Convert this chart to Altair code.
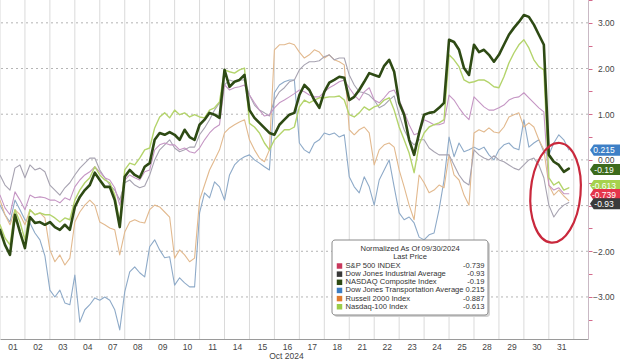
import json
import altair as alt
import pandas as pd

# ---------------- data ----------------
day_labels = ["01", "02", "03", "04", "07", "08", "09", "10", "11", "14", "15", "16",
              "17", "18", "21", "22", "23", "24", "25", "28", "29", "30", "31"]
slots_per_day = 5  # intraday samples per trading day

names = ["S&P 500 INDEX", "Dow Jones Industrial Average", "NASDAQ Composite Index",
         "Dow Jones Transportation Average", "Russell 2000 Index", "Nasdaq-100 Index"]
last_price_text = ["-0.739", "-0.93", "-0.19", "0.215", "-0.887", "-0.613"]
last_price = [-0.739, -0.93, -0.19, 0.215, -0.887, -0.613]

# % change vs 09/30/2024 close, 5 intraday samples per trading day
sp500 = [-0.77, -1.05, -1.20, -0.70, -0.88, -1.09, -0.77, -0.83, -0.81, -0.83,
         -0.88, -0.88, -0.94, -0.83, -0.88, -0.59, -0.44, -0.33, -0.26, -0.15,
         -0.26, -0.39, -0.44, -0.61, -0.99, -0.44, -0.33, -0.39, -0.44, -0.26,
         -0.22, 0.22, 0.33, 0.37, 0.33, 0.33, 0.22, 0.26, 0.18, 0.15,
         0.26, 0.44, 0.59, 0.70, 0.77, 1.64, 1.53, 1.58, 1.60, 1.64,
         1.42, 1.25, 1.09, 0.96, 0.99, 1.14, 1.25, 1.31, 1.38, 1.45,
         1.53, 1.49, 1.42, 1.38, 1.38, 1.49, 1.58, 1.64, 1.71, 1.75,
         1.58, 1.42, 1.31, 1.49, 1.58, 1.31, 1.25, 1.36, 1.49, 1.53,
         1.31, 1.05, 0.77, 0.55, 0.59, 0.88, 0.83, 0.77, 0.77, 0.81,
         1.42, 1.31, 1.14, 0.99, 0.88, 1.38, 1.27, 1.16, 1.09, 1.09,
         1.14, 1.20, 1.31, 1.36, 1.38, 1.47, 1.36, 1.25, 1.14, 1.05,
         -0.55, -0.66, -0.61, -0.74, -0.74]
dow = [-0.33, -0.55, -0.66, -0.18, -0.11, -0.39, -0.11, -0.22, -0.18, -0.26,
       -0.55, -0.66, -0.77, -0.61, -0.50, -0.33, -0.18, -0.07, 0.04, 0.04,
       -0.22, -0.39, -0.55, -0.66, -0.88, -0.50, -0.44, -0.55, -0.61, -0.57,
       -0.33, 0.00, 0.22, 0.33, 0.44, 0.26, 0.18, 0.22, 0.28, 0.28,
       0.55, 0.70, 0.88, 1.09, 1.25, 1.64, 1.75, 1.71, 1.75, 1.75,
       1.42, 1.20, 1.09, 1.03, 0.96, 1.31, 1.49, 1.58, 1.71, 1.75,
       1.97, 2.08, 2.15, 2.15, 2.17, 2.26, 2.30, 2.19, 2.23, 2.23,
       1.86, 1.64, 1.49, 1.47, 1.42, 1.31, 1.14, 1.20, 1.31, 1.40,
       0.99, 0.66, 0.44, 0.33, 0.44, 0.44, 0.26, 0.18, 0.11, 0.11,
       0.11, -0.11, -0.33, -0.48, -0.55, 0.22, 0.11, 0.04, 0.00, 0.09,
       0.00, -0.04, -0.11, -0.18, -0.22, -0.11, 0.00, 0.04, -0.11, -0.39,
       -0.99, -1.25, -1.09, -0.99, -0.93]
nasdaq_comp = [-1.53, -1.86, -2.08, -1.20, -1.58, -1.93, -1.25, -1.38, -1.36, -1.42,
               -1.36, -1.47, -1.53, -1.42, -1.53, -1.03, -0.81, -0.66, -0.55, -0.28,
               -0.44, -0.59, -0.59, -0.88, -1.47, -0.37, -0.22, -0.33, -0.39, -0.15,
               -0.07, 0.44, 0.59, 0.55, 0.61, 0.55, 0.44, 0.66, 0.50, 0.44,
               0.77, 0.88, 1.03, 0.99, 0.92, 1.97, 1.60, 1.71, 1.75, 1.86,
               1.09, 0.92, 0.81, 0.70, 0.59, 0.55, 0.77, 0.88, 0.99, 1.03,
               1.42, 1.64, 1.53, 1.31, 1.14, 1.49, 1.69, 1.75, 1.82, 1.80,
               1.31, 1.38, 1.53, 1.71, 1.90, 1.86, 1.82, 2.06, 2.19, 1.93,
               1.25, 0.99, 0.44, 0.11, 0.59, 0.99, 1.03, 1.05, 1.14, 1.25,
               2.63, 2.58, 2.41, 2.01, 1.86, 2.52, 2.36, 2.41, 2.30, 2.15,
               2.30, 2.52, 2.74, 2.89, 3.02, 3.17, 3.13, 2.96, 2.74, 2.52,
               0.11, -0.04, -0.11, -0.26, -0.19]
transports = [-0.99, -1.20, -1.36, -0.88, -1.09, -1.31, -1.38, -1.60, -1.75, -2.10,
              -2.85, -3.00, -2.85, -3.13, -3.17, -2.52, -3.55, -3.28, -3.17, -3.02,
              -3.07, -3.00, -3.07, -3.28, -3.72, -2.89, -2.45, -2.34, -2.47, -2.56,
              -1.90, -1.75, -1.97, -2.14, -2.12, -2.74, -2.58, -2.69, -2.78, -2.78,
              -1.16, -0.72, -0.83, -0.48, -0.59, -0.88, -0.33, -0.11, 0.00, 0.07,
              0.11, 0.00, -0.07, -0.15, -0.22, 1.47, 1.64, 1.71, 1.75, 1.75,
              0.37, 0.22, 0.15, 0.37, 0.44, 0.59, 0.55, 0.59, 0.50, 0.55,
              -0.37, -0.59, -0.72, -0.37, -0.59, -0.99, -0.44, -0.22, 0.00, -0.59,
              -1.16, -1.31, -1.25, -1.38, -1.69, -1.75, -1.64, -1.60, -1.09, -0.44,
              0.50, 0.07, 0.37, 0.18, 0.22, 0.28, 0.22, 0.28, 0.11, 0.00,
              0.22, 0.33, 0.37, 0.26, 0.22, 0.88, 0.28, 0.37, 0.44, 0.18,
              0.11, 0.37, 0.55, 0.44, 0.22]
russell = [-0.88, -1.20, -1.42, -1.09, -1.20, -1.42, -1.09, -1.20, -1.16, -1.27,
           -1.97, -2.23, -2.08, -2.30, -2.15, -1.36, -1.14, -0.99, -0.88, -0.99,
           -1.36, -1.42, -1.49, -1.53, -2.08, -1.58, -1.36, -1.31, -1.36, -1.38,
           -1.09, -0.99, -1.03, -1.14, -1.25, -2.15, -1.97, -2.08, -2.23, -2.15,
           -0.88, -0.55, -0.22, 0.00, 0.22, 0.59, 0.70, 0.77, 0.83, 0.88,
           0.44, 0.22, 0.04, -0.04, 0.22, 2.41, 2.52, 2.52, 2.56, 2.52,
           2.36, 2.23, 2.30, 2.41, 2.36, 2.23, 2.30, 2.19, 2.15, 2.08,
           0.66, 0.55, 0.66, 0.72, 0.59, -0.11, 0.22, 0.33, 0.37, 0.28,
           -0.22, -0.59, -0.99, -1.31, -0.33, -0.50, -0.72, -0.66, -0.55, -0.61,
           0.11, -0.33, -0.44, -0.77, -0.99, 0.59, 0.66, 0.61, 0.70, 0.61,
           0.59, 0.72, 0.94, 0.99, 1.03, 0.72, 0.81, 0.72, 0.44, 0.22,
           -0.55, -0.77, -0.66, -0.79, -0.89]
nasdaq100 = [-1.42, -1.71, -1.86, -1.09, -1.36, -1.75, -1.09, -1.20, -1.16, -1.20,
             -1.20, -1.27, -1.36, -1.27, -1.31, -0.88, -0.66, -0.50, -0.39, -0.15,
             -0.33, -0.44, -0.50, -0.77, -1.36, -0.22, -0.07, -0.11, 0.04, 0.22,
             0.26, 0.70, 0.94, 1.03, 0.92, 1.09, 0.99, 1.03, 0.94, 0.99,
             0.94, 0.92, 1.09, 1.14, 1.27, 1.97, 1.93, 1.90, 1.97, 2.01,
             0.80, 0.72, 0.59, 0.37, 0.22, 0.44, 0.55, 0.66, 0.66, 0.72,
             1.16, 1.31, 1.25, 1.31, 1.36, 1.36, 1.38, 1.38, 1.40, 1.31,
             0.99, 0.94, 1.03, 1.16, 1.09, 1.16, 1.20, 1.31, 1.36, 1.09,
             0.72, 0.44, 0.15, -0.28, 0.33, 0.59, 0.72, 0.77, 0.81, 0.88,
             2.30, 2.19, 2.04, 1.75, 1.69, 1.71, 1.75, 1.75, 1.69, 1.60,
             1.58, 1.82, 2.12, 2.34, 2.52, 2.63, 2.45, 2.19, 2.04, 1.97,
             -0.39, -0.55, -0.48, -0.66, -0.61]

series_values = [sp500, dow, nasdaq_comp, transports, russell, nasdaq100]
legend_colors = ["#c8385c", "#383838", "#2d4a12", "#3d7dc2", "#e07b2e", "#9ccc48"]
line_colors = ["#c596c4", "#a7a3b1", "#2e4a14", "#8eaac8", "#e2b98e", "#b4d46c"]
line_widths = [1.1, 1.1, 2.6, 1.1, 1.1, 1.4]
draw_order = [3, 4, 1, 0, 5, 2]

# last-price tags on the right axis (series index, tag colour)
tag_specs = [(3, "#3d7fc6"), (2, "#3d6b1c"), (5, "#a6d24e"), (0, "#e5364b"), (1, "#3b3b3b")]

h_grid = [-3, -2, -1, 0, 1, 2, 3]
y_ticks = [-3.5, -3, -2.5, -2, -1.5, -1, -0.5, 0, 0.5, 1, 1.5, 2, 2.5, 3, 3.5]

# red ellipse annotation (centre in data units)
ellipse_t, ellipse_v = 22.27, -0.72

# ---------------- tag layout ----------------
# axis labels sitting right under a tag are covered by it (as in the source)
hidden_labels = [r for r in h_grid
                 if any(abs(last_price[i] - r) < 0.12 for i, _ in tag_specs)]
visible_labels = [r for r in h_grid if r not in hidden_labels]
min_gap = 0.2
axis_gap = 0.21
pos = [last_price[i] for i, _ in tag_specs]
for _ in range(100):
    for k in range(len(pos)):
        for r in visible_labels:
            if abs(pos[k] - r) < axis_gap:
                pos[k] = r + axis_gap if pos[k] >= r else r - axis_gap
    for k in range(len(pos) - 1):
        gap = pos[k] - pos[k + 1]
        if gap < min_gap:
            d = (min_gap - gap) / 2
            pos[k] += d
            pos[k + 1] -= d

# ---------------- chart ----------------
FONT = "Liberation Sans"
n_days = len(day_labels)
t_vals = [d + s / slots_per_day for d in range(n_days) for s in range(slots_per_day)]

x_scale = alt.Scale(domain=[0, 23.57], nice=False, zero=False, padding=0)
y_scale = alt.Scale(domain=[-3.92, 3.50], nice=False, zero=False, padding=0)

x_axis = alt.Axis(
    values=[i + 0.5 for i in range(n_days)],
    labelExpr=json.dumps(day_labels) + "[floor(datum.value)]",
    ticks=False, tickSize=0, grid=False, domainColor="#9a9a9a",
    labelColor="#444444", labelFont=FONT, labelFontSize=8.5, labelPadding=3,
    labelFlush=False, labelOverlap=False,
    title="Oct 2024", titleX=286, titleY=12, titleBaseline="top",
    titleFont=FONT, titleFontSize=8.5, titleFontWeight="normal", titleColor="#444444",
)
y_axis = alt.Axis(
    orient="right", values=y_ticks,
    labelExpr=("(datum.value % 1 == 0 && indexof(" + json.dumps(hidden_labels)
               + ", datum.value) < 0) ? format(datum.value, '.2f') : ''"),
    tickColor="#d46a8c", tickSize=4, domainColor="#c9b9c4", grid=False,
    labelAlign="right", labelPadding=22, labelColor="#444444",
    labelFont=FONT, labelFontSize=8.5, labelBaseline="middle", title="",
)


def X(field):
    return alt.X(field, type="quantitative", scale=x_scale, axis=x_axis)


def Y(field):
    return alt.Y(field, type="quantitative", scale=y_scale, axis=y_axis)


layers = []

layers.append(
    alt.Chart(pd.DataFrame({"t": list(range(0, n_days + 1))})).mark_rule(
        color="#dadada", strokeWidth=1).encode(x=X("t"))
)
layers.append(
    alt.Chart(pd.DataFrame({"v": h_grid})).mark_rule(
        color="#b4b4b4", strokeWidth=1, strokeDash=[2, 3]).encode(y=Y("v"))
)

for idx in draw_order:
    df = pd.DataFrame({"t": t_vals, "v": series_values[idx]})
    layers.append(
        alt.Chart(df).mark_line(color=line_colors[idx], strokeWidth=line_widths[idx],
                                strokeJoin="round", strokeCap="round")
        .encode(x=X("t"), y=Y("v"))
    )

# red ellipse
ellipse_path = ("M0,-1C0.276,-1 0.5,-0.552 0.5,0C0.5,0.552 0.276,1 0,1"
                "C-0.276,1 -0.5,0.552 -0.5,0C-0.5,-0.552 -0.276,-1 0,-1Z")
layers.append(
    alt.Chart(pd.DataFrame({"t": [ellipse_t], "v": [ellipse_v]})).mark_point(
        shape=ellipse_path, size=10000, filled=False, stroke="#c9283c",
        strokeWidth=2.2, opacity=1, angle=5
    ).encode(x=X("t"), y=Y("v"))
)

tag_path = "M-1,0L-0.75,-0.37L1,-0.37L1,0.37L-0.75,0.37Z"
for k, (i, col) in enumerate(tag_specs):
    tdf = pd.DataFrame({"v": [pos[k]], "label": [last_price_text[i]]})
    layers.append(
        alt.Chart(tdf).mark_point(shape=tag_path, size=900, filled=True, fill=col,
                                  strokeWidth=0, opacity=1)
        .encode(x=alt.value(605), y=Y("v"))
    )
    layers.append(
        alt.Chart(tdf).mark_text(color="white", font=FONT, fontSize=8.5, align="center",
                                 baseline="middle")
        .encode(x=alt.value(604), y=Y("v"), text="label:N")
    )

# legend box (drawn in pixel space)
one = pd.DataFrame({"a": [0]})
layers.append(
    alt.Chart(one).mark_rect(fill="#d2d2d2", cornerRadius=3)
    .encode(x=alt.value(334), x2=alt.value(490), y=alt.value(242), y2=alt.value(317))
)
layers.append(
    alt.Chart(one).mark_rect(fill="white", stroke="#8a8a8a", strokeWidth=1, cornerRadius=3)
    .encode(x=alt.value(332), x2=alt.value(488), y=alt.value(240), y2=alt.value(315))
)
legend_title = ["Normalized As Of 09/30/2024", "Last Price"]
for j, txt in enumerate(legend_title):
    layers.append(
        alt.Chart(one).mark_text(font=FONT, fontSize=7.6, color="#333333",
                                 align="center", baseline="middle")
        .encode(x=alt.value(410), y=alt.value(248.5 + 8.5 * j), text=alt.value(txt))
    )
for i in range(len(names)):
    ypx = 266 + 8.15 * i
    layers.append(
        alt.Chart(one).mark_square(size=30, opacity=1, color=legend_colors[i])
        .encode(x=alt.value(339.5), y=alt.value(ypx))
    )
    layers.append(
        alt.Chart(one).mark_text(font=FONT, fontSize=7.6, color="#333333",
                                 align="left", baseline="middle")
        .encode(x=alt.value(345.5), y=alt.value(ypx), text=alt.value(names[i]))
    )
    layers.append(
        alt.Chart(one).mark_text(font=FONT, fontSize=7.6, color="#333333",
                                 align="right", baseline="middle")
        .encode(x=alt.value(484.5), y=alt.value(ypx), text=alt.value(last_price_text[i]))
    )

chart = alt.layer(*layers).properties(
    width=588, height=339,
    autosize=alt.AutoSizeParams(type="none"),
    padding={"left": 0, "top": 0, "right": 32, "bottom": 23},
    background="white",
).configure_view(stroke=None)

chart.save("out.html", embed_options={"renderer": "svg", "actions": False})
